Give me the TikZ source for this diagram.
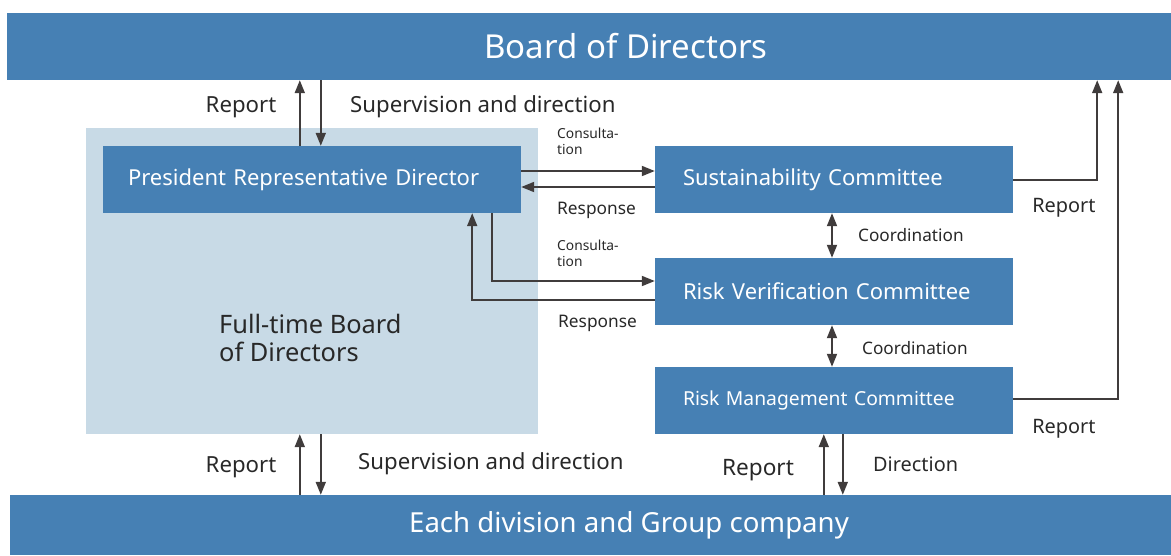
\documentclass[tikz,border=0pt]{standalone}
\usepackage{fontspec}
\setmainfont{Noto Sans}
\usetikzlibrary{arrows.meta}

\definecolor{boxblue}{RGB}{70,128,180}
\definecolor{paleblue}{RGB}{200,218,230}
\definecolor{arrgray}{RGB}{64,60,60}
\definecolor{txtgray}{RGB}{40,40,40}

\tikzset{
  bar/.style={fill=boxblue,text=white,minimum width=1238pt,font=\fontsize{33}{40}\selectfont},
  cttee/.style={fill=boxblue,text=white,minimum height=67pt,inner xsep=28pt,
    text width=302pt,align=left,font=\fontsize{22}{26}\selectfont},
  arr/.style={draw=arrgray,line width=1.8pt,-{Triangle[length=13pt,width=10pt]}},
  dblarr/.style={draw=arrgray,line width=1.8pt,{Triangle[length=13pt,width=10pt]}-{Triangle[length=13pt,width=10pt]}},
  lbl/.style={text=txtgray,inner sep=0pt,font=\fontsize{22.2}{26}\selectfont},
  small/.style={text=txtgray,inner sep=0pt,align=left,font=\fontsize{13.8}{16}\selectfont}
}

\begin{document}
\begin{tikzpicture}[x=1pt,y=-1pt]
  \useasboundingbox (0,0) rectangle (1171,555);

  % bars and boxes
  \node[bar,minimum height=67pt] (board) at (626,46.5) {Board of Directors};
  \node[bar,minimum height=60pt,font=\fontsize{27.6}{33}\selectfont] (division) at (629,525) {Each division and Group company};
  \node[fill=paleblue,minimum width=452pt,minimum height=306pt] (fulltime) at (312,281) {};
  \node[anchor=west,text=txtgray,inner sep=0pt,align=left,
        font=\fontsize{25.4}{28}\selectfont] (ftlabel) at (219,338) {Full-time Board\\of Directors};
  \node[cttee,inner xsep=25pt,text width=368pt] (pres) at (312,179.5) {President Representative Director};
  \node[cttee] (sust) at (834,179.5) {Sustainability Committee};
  \node[cttee] (riskv) at (834,291.5) {Risk Verification Committee};
  \node[cttee,font=\fontsize{19.3}{23}\selectfont] (riskm) at (834,400.5) {Risk Management Committee};

  % president <-> board
  \draw[arr] ([xshift=197pt]pres.north west) -- ([xshift=197pt]pres.north west |- board.south);
  \draw[arr] ([xshift=218pt]pres.north west |- board.south) -- ([xshift=218pt]pres.north west);
  \node[lbl] (rep1) at (241,107) {Report};
  \node[lbl,anchor=west] (sup1) at (350,107) {Supervision and direction};

  % president <-> committees
  \draw[arr] ([yshift=8.5pt]pres.east) -- ([yshift=8.5pt]pres.east -| sust.west);
  \draw[arr] ([yshift=-7.5pt]sust.west) -- ([yshift=-7.5pt]sust.west -| pres.east);
  \node[small,anchor=west] (cons1) at (557,141) {Consulta-\\tion};
  \node[lbl,anchor=west,font=\fontsize{17.3}{20}\selectfont] (resp1) at (557,210) {Response};
  \draw[arr] ([xshift=-29pt]pres.south east) |- ([yshift=10.5pt]riskv.west);
  \draw[arr] ([yshift=-8.5pt]riskv.west) -| ([xshift=-49pt]pres.south east);
  \node[small,anchor=west] (cons2) at (557,253) {Consulta-\\tion};
  \node[lbl,anchor=west,font=\fontsize{17.3}{20}\selectfont] (resp2) at (558,323) {Response};

  % coordination
  \draw[dblarr] ([xshift=-2pt]sust.south) -- ([xshift=-2pt]riskv.north);
  \draw[dblarr] ([xshift=-2pt]riskv.south) -- ([xshift=-2pt]riskm.north);
  \node[lbl,anchor=west,font=\fontsize{17.2}{20}\selectfont] (coord1) at (858,235) {Coordination};
  \node[lbl,anchor=west,font=\fontsize{17.2}{20}\selectfont] (coord2) at (862,348) {Coordination};

  % reports to the board
  \draw[arr] ([yshift=-0.5pt]sust.east) -- ++(84,0) coordinate (sa) -- (sa |- board.south);
  \draw[arr] ([yshift=1.5pt]riskm.east) -- ++(105,0) coordinate (ma) -- (ma |- board.south);
  \node[lbl,font=\fontsize{19.9}{24}\selectfont] (rep3) at (1064,208) {Report};
  \node[lbl,font=\fontsize{19.9}{24}\selectfont] (rep4) at (1064,429) {Report};

  % divisions
  \draw[arr] ([xshift=214pt]fulltime.south west |- division.north) -- ([xshift=214pt]fulltime.south west);
  \draw[arr] ([xshift=235pt]fulltime.south west) -- ([xshift=235pt]fulltime.south west |- division.north);
  \node[lbl] (rep2) at (241,467) {Report};
  \node[lbl,anchor=west] (sup2) at (358,464) {Supervision and direction};
  \draw[arr] ([xshift=169pt]riskm.south west |- division.north) -- ([xshift=169pt]riskm.south west);
  \draw[arr] ([xshift=188pt]riskm.south west) -- ([xshift=188pt]riskm.south west |- division.north);
  \node[lbl,font=\fontsize{22.6}{27}\selectfont] (rep5) at (758,470) {Report};
  \node[lbl,anchor=west,font=\fontsize{19.9}{24}\selectfont] (dirn) at (873,464) {Direction};
\end{tikzpicture}
\end{document}
